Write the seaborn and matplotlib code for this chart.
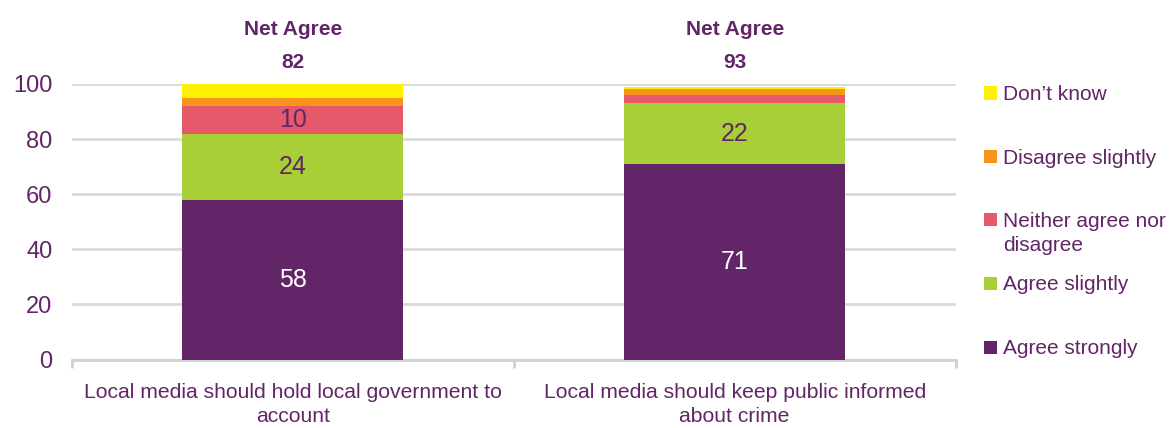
import matplotlib
matplotlib.use("Agg")
import matplotlib.pyplot as plt
from matplotlib.patches import Rectangle
import seaborn as sns
import pandas as pd
import numpy as np

# Survey statements and response shares (%)
categories = [
    "Local media should hold local government to\naccount",
    "Local media should keep public informed\nabout crime",
]
responses = ["Agree strongly", "Agree slightly", "Neither agree nor\ndisagree",
             "Disagree slightly", "Don\u2019t know"]
agree_strongly = [58, 71]
agree_slightly = [24, 22]
neither = [10, 3]
disagree_slightly = [3, 2]
dont_know = [5, 1]
net_agree = [82, 93]

colors = ["#622567", "#A8CF38", "#E5596A", "#F7941D", "#FFF200"]
text_purple = "#622567"

sns.set_theme(style="white")
plt.rcParams["font.family"] = ["Liberation Sans", "DejaVu Sans"]

series = [agree_strongly, agree_slightly, neither, disagree_slightly, dont_know]
df = pd.DataFrame({"category": np.repeat(categories, len(responses)),
                   "response": responses * len(categories),
                   "value": [series[j][i] for i in range(len(categories))
                             for j in range(len(responses))]})
df["cum"] = df.groupby("category")["value"].cumsum()
df["start"] = df["cum"] - df["value"]

W, H = 1171, 428
fig = plt.figure(figsize=(W / 100, H / 100), dpi=100)
ax = fig.add_axes([0.0615, 0.160, 0.7545, 0.644])

# Stacked bars: draw cumulative totals from the top segment down
for resp, col in reversed(list(zip(responses, colors))):
    sub = df[df["response"] == resp]
    sns.barplot(data=sub, x="category", y="cum", order=categories, color=col,
                saturation=1, width=0.5, linewidth=0, ax=ax, zorder=3)

# Segment labels for the larger segments
label_colors = {"Agree strongly": "white", "Agree slightly": text_purple,
                "Neither agree nor\ndisagree": text_purple}
for i, cat in enumerate(categories):
    for resp, tc in label_colors.items():
        row = df[(df["category"] == cat) & (df["response"] == resp)].iloc[0]
        if row["value"] >= 5:
            ax.text(i, row["start"] + row["value"] / 2, f"{row['value']:g}",
                    ha="center", va="center", fontsize=18, color=tc, zorder=4)
    ax.text(i, 1.196, "Net Agree", transform=ax.get_xaxis_transform(),
            ha="center", va="center", fontsize=15, fontweight="bold",
            color=text_purple)
    ax.text(i, 1.076, f"{net_agree[i]}", transform=ax.get_xaxis_transform(),
            ha="center", va="center", fontsize=15, fontweight="bold",
            color=text_purple)

ax.set_xlim(-0.5, 1.5)
ax.set_ylim(0, 100)
ax.set_yticks(range(0, 101, 20))
ax.yaxis.grid(True, color="#D9D9D9", linewidth=2, zorder=0)
ax.xaxis.grid(False)
ax.set_xlabel("")
ax.set_ylabel("")
for s in ["left", "right", "top"]:
    ax.spines[s].set_visible(False)
ax.spines["bottom"].set_color("#D0D0D0")
ax.spines["bottom"].set_linewidth(2)

ax.set_xticks([0, 1])
ax.set_xticklabels(categories, fontsize=15.2, color=text_purple, linespacing=1.32)
ax.set_xticks([-0.5, 0.5, 1.5], minor=True)
ax.tick_params(axis="x", which="major", length=0, pad=17)
ax.tick_params(axis="x", which="minor", length=6, width=2, color="#D0D0D0",
               direction="out", bottom=True)
ax.tick_params(axis="y", length=0, labelsize=17, labelcolor=text_purple, pad=14)

# Legend: evenly spaced entries, top to bottom in reverse stacking order
leg_x, leg_y0, leg_step, sq = 984, 93, 63.5, 13
for k, (resp, col) in enumerate(zip(responses[::-1], colors[::-1])):
    yc = leg_y0 + k * leg_step
    fig.patches.append(Rectangle((leg_x / W, 1 - (yc + sq / 2) / H), sq / W, sq / H,
                                 transform=fig.transFigure, facecolor=col,
                                 edgecolor="none", figure=fig))
    fig.text((leg_x + sq + 6) / W, 1 - (yc - 8) / H, resp, ha="left", va="top",
             fontsize=15, color=text_purple, linespacing=1.35)

fig.savefig("out.png", dpi=100)
